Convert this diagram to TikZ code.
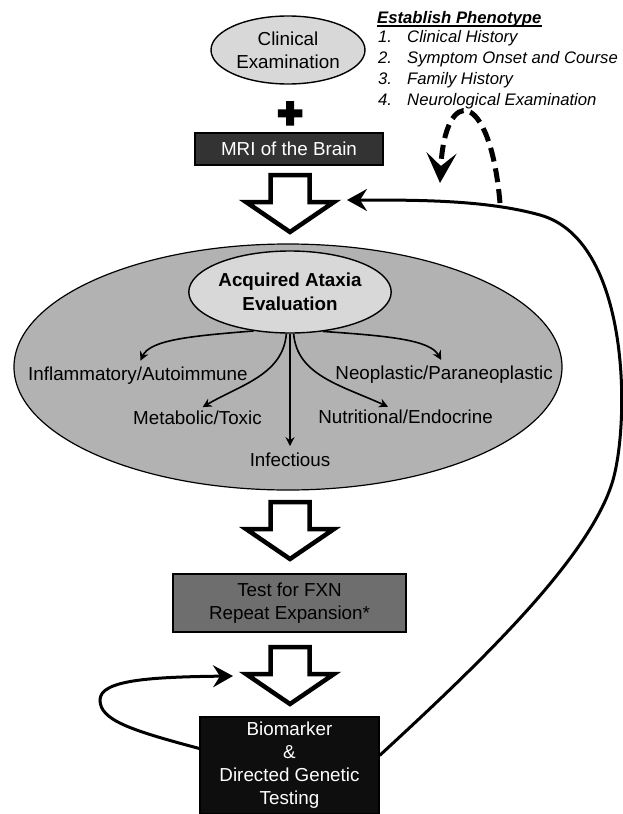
\documentclass[tikz,border=0pt]{standalone}
\usepackage{fontspec}
\setmainfont{Liberation Sans}
\newfontfamily\heavyfont[FakeBold=8]{Liberation Sans Bold}
\usetikzlibrary{arrows.meta,positioning,shapes.geometric}
\definecolor{ovalgray}{RGB}{216,216,216}
\definecolor{biggray}{RGB}{178,178,178}
\definecolor{mridark}{RGB}{51,51,51}
\definecolor{fxngray}{RGB}{110,110,110}
\definecolor{biodark}{RGB}{14,14,14}

\begin{document}
\begin{tikzpicture}[x=1pt,y=-1pt,font=\fontsize{18.8}{23}\selectfont,
    oval/.style={ellipse,draw,line width=1.4pt,inner sep=0pt,align=center},
    box/.style={rectangle,draw,line width=1.2pt,inner sep=0pt,align=center},
    lbl/.style={inner sep=0pt},
    listfont/.style={font=\itshape\fontsize{16.7}{21}\selectfont},
    branch/.style={line width=1.6pt,-{Stealth[length=9pt,width=9pt,inset=3pt]},shorten >=6pt},
    hollow/.style={draw,fill=white,line width=4.5pt,miter limit=10},
    loop/.style={line width=3pt,-{Stealth[length=20pt,width=22pt,inset=7pt]}},
    dashloop/.style={line width=5pt,dash pattern=on 14pt off 7pt,-{Stealth[length=30pt,width=30pt,inset=13pt]}}]
    \useasboundingbox (0,0) rectangle (623,814);

    % top: exam, plus, MRI
    \node[oval,fill=ovalgray,minimum width=154,minimum height=68] (clin) at (288,50) {Clinical\\Examination};
    \node[font=\heavyfont\fontsize{42}{42}\selectfont] (plus) at (290,115) {+};
    \node[box,fill=mridark,text=white,minimum width=188,minimum height=32] (mri) at (289,149) {MRI of the Brain};

    % phenotype list
    \node[lbl,anchor=base west,font=\bfseries\itshape\fontsize{16.7}{21}\selectfont] (pheno) at (377,23) {Establish Phenotype};
    \draw[line width=1.6pt] ([yshift=-3pt]pheno.base west) -- ([yshift=-3pt]pheno.base east);
    \foreach \entry [count=\i] in {Clinical History,Symptom Onset and Course,Family History,Neurological Examination}{
      \node[lbl,anchor=base west,listfont] (num\i) at (378,21+21*\i) {\i.};
      \node[lbl,anchor=base west,listfont] (ph\i) at (407,21+21*\i) {\entry};
    }

    % acquired ataxia evaluation
    \node[ellipse,draw,line width=1.2pt,fill=biggray,minimum width=548,minimum height=246] (acq) at (288,367) {};
    \node[oval,fill=ovalgray,minimum width=194,minimum height=82,font=\fontsize{18.8}{24}\selectfont\bfseries] (eval) at (290,292) {Acquired Ataxia\\Evaluation};
    \node[lbl,anchor=base west] (infl) at (28,380) {Inflammatory/Autoimmune};
    \node[lbl,anchor=base west] (meta) at (133,424) {Metabolic/Toxic};
    \node[lbl,anchor=base] (infe) at (290,466) {Infectious};
    \node[lbl,anchor=base east] (nutr) at (493,423) {Nutritional/Endocrine};
    \node[lbl,anchor=base east] (neop) at (553,379) {Neoplastic/Paraneoplastic};
    \draw[branch] (eval.-133) .. controls (190,336) and (150,340) .. (infl.north);
    \draw[branch] (eval.-95) .. controls (283,375) and (240,385) .. (meta.north);
    \draw[branch] (eval.south) -- (infe.north);
    \draw[branch] (eval.-85) .. controls (297,375) and (340,385) .. ([xshift=-12pt]nutr.north);
    \draw[branch] (eval.-50) .. controls (390,336) and (430,340) .. (neop.north);

    % hollow down arrows
    \foreach \t in {175,502,647}{
      \draw[hollow] (270.5,\t) -- (309.5,\t) -- (309.5,\t+27) -- (334,\t+27) -- (290,\t+57) -- (246,\t+27) -- (270.5,\t+27) -- cycle;
    }

    % genetic testing
    \node[box,fill=fxngray,minimum width=233,minimum height=58] (fxn) at (289.5,603) {Test for FXN\\Repeat Expansion*};
    \node[box,fill=biodark,text=white,minimum width=179,minimum height=97] (bio) at (289.5,765.5) {Biomarker\\\&\\Directed Genetic\\Testing};

    % feedback loops
    \coordinate (fbtip) at (347,200);
    \coordinate (dashfoot) at (500,203);
    \coordinate (dashtip) at (440,183);
    \coordinate (looptip) at (233,676);
    \draw[loop] ([yshift=10pt]bio.east) .. controls (470,672) and (590,560) .. (613,480)
      .. controls (630,420) and (630,240) .. (540,215) .. controls (486,200) and (420,200) .. (fbtip);
    \draw[dashloop] (dashfoot) .. controls (490,88) and (445,85) .. (dashtip);
    \draw[loop] ([yshift=17pt]bio.west) .. controls (130,730) and (100,720) .. (100,700)
      .. controls (100,680) and (150,677) .. (looptip);
  \end{tikzpicture}
\end{document}
